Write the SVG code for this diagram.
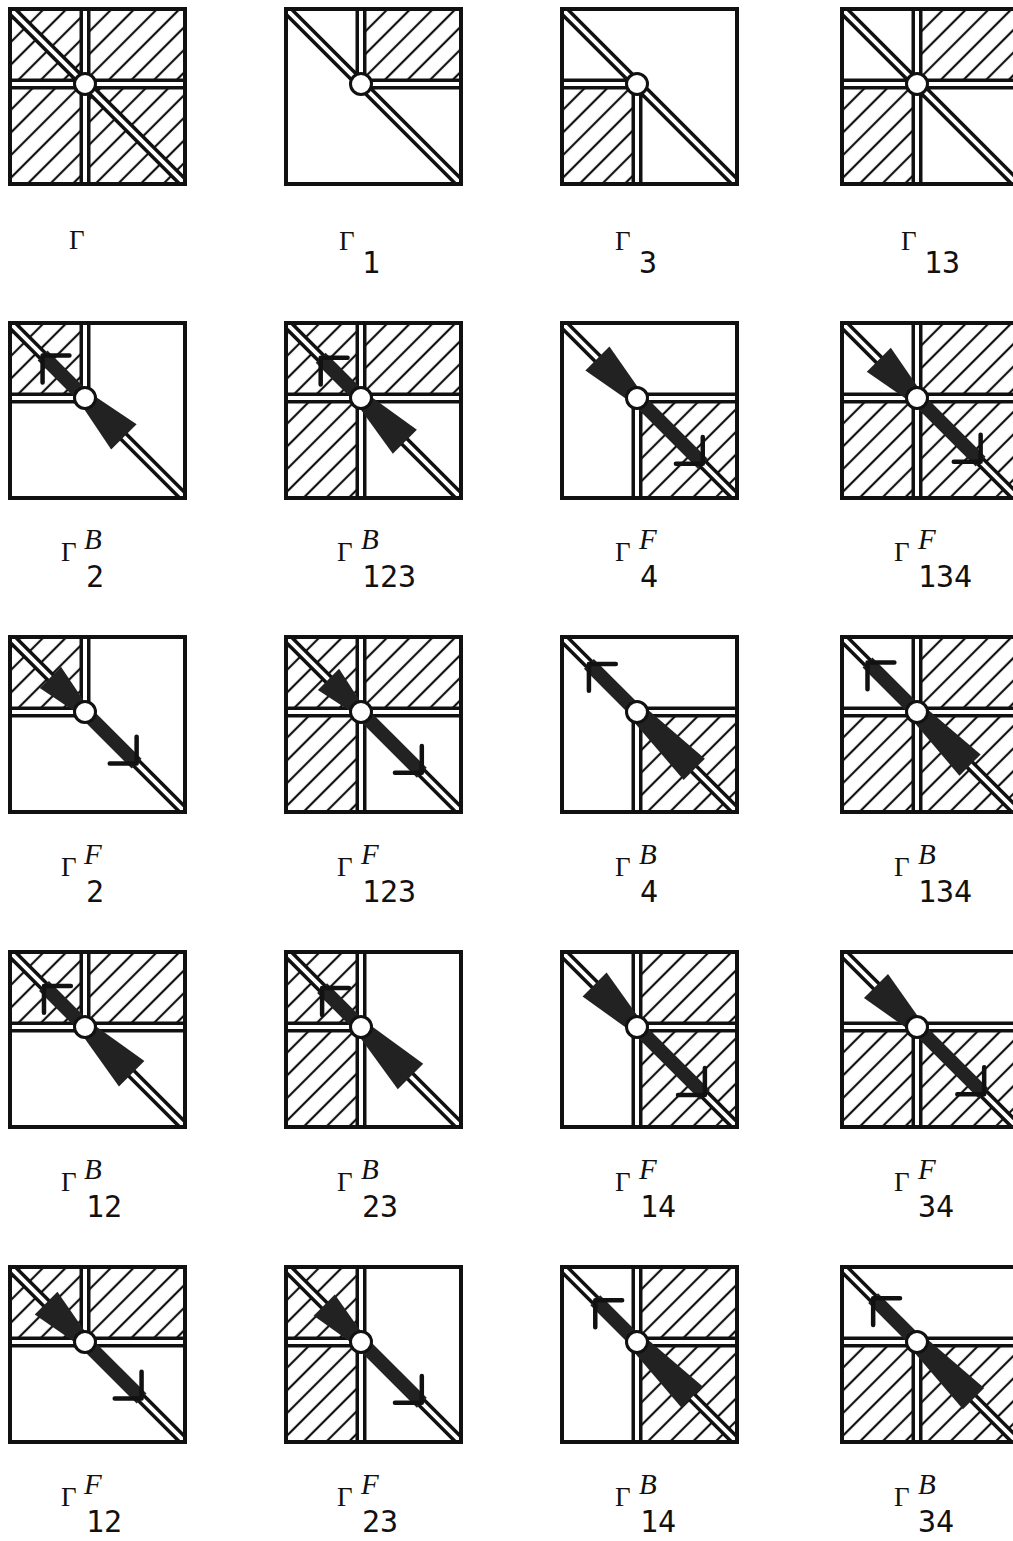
<svg xmlns="http://www.w3.org/2000/svg" width="1013" height="1541" viewBox="0 0 1013 1541">
<style>
.box{fill:none;stroke:#111;stroke-width:4}
.bk{fill:none;stroke:#111;stroke-width:11}
.wh{fill:none;stroke:#fff;stroke-width:4}
.hz{fill:url(#hatch)}
.dot{fill:#fff;stroke:#111;stroke-width:3}
.sh{fill:#222}
.chev{fill:none;stroke:#111;stroke-width:4.5;stroke-linecap:round;stroke-linejoin:round}
.g{font-family:"Liberation Serif",serif;font-size:27px;fill:#111}
.n{font-family:"DejaVu Sans Mono","Liberation Mono",monospace;font-size:30px;fill:#111}
.s{font-family:"Liberation Serif",serif;font-style:italic;font-size:29px;fill:#111}
</style>
<defs>
<pattern id="hatch" width="16" height="16" patternUnits="userSpaceOnUse" patternTransform="rotate(45)">
<line x1="8" y1="0" x2="8" y2="16" stroke="#111" stroke-width="2.2"/>
</pattern>
<clipPath id="clip"><rect x="0" y="0" width="175" height="175"/></clipPath>
</defs>
<rect width="1013" height="1541" fill="#fff"/>

<!-- Row 1 -->
<g id="n-G">
<g transform="translate(10 9)">
<g clip-path="url(#clip)">
<rect class="hz" x="0" y="0" width="175" height="175"/>
<path class="bk" d="M75 0V175M0 75H175M0 0L175 175"/>
<path class="wh" d="M75 0V175M0 75H175M0 0L175 175"/>
<circle class="dot" cx="75" cy="75" r="10.5"/>
</g>
<rect class="box" x="0" y="0" width="175" height="175"/>
</g>
<text class="g" x="69" y="249">Γ</text>
</g>

<g id="n-G1">
<g transform="translate(286 9)">
<g clip-path="url(#clip)">
<rect class="hz" x="75" y="0" width="100" height="75"/>
<path class="bk" d="M75 0V75M75 75H175M0 0L175 175"/>
<path class="wh" d="M75 0V75M75 75H175M0 0L175 175"/>
<circle class="dot" cx="75" cy="75" r="10.5"/>
</g>
<rect class="box" x="0" y="0" width="175" height="175"/>
</g>
<text class="g" x="339" y="250">Γ</text><text class="n" x="362" y="273">1</text>
</g>

<g id="n-G3">
<g transform="translate(562 9)">
<g clip-path="url(#clip)">
<rect class="hz" x="0" y="75" width="75" height="100"/>
<path class="bk" d="M0 75H75M75 75V175M0 0L175 175"/>
<path class="wh" d="M0 75H75M75 75V175M0 0L175 175"/>
<circle class="dot" cx="75" cy="75" r="10.5"/>
</g>
<rect class="box" x="0" y="0" width="175" height="175"/>
</g>
<text class="g" x="615" y="250">Γ</text><text class="n" x="639" y="273">3</text>
</g>

<g id="n-G13">
<g transform="translate(842 9)">
<g clip-path="url(#clip)">
<rect class="hz" x="75" y="0" width="100" height="75"/>
<rect class="hz" x="0" y="75" width="75" height="100"/>
<path class="bk" d="M75 0V175M0 75H175M0 0L175 175"/>
<path class="wh" d="M75 0V175M0 75H175M0 0L175 175"/>
<circle class="dot" cx="75" cy="75" r="10.5"/>
</g>
<rect class="box" x="0" y="0" width="175" height="175"/>
</g>
<text class="g" x="901" y="250">Γ</text><text class="n" x="924" y="273">13</text>
</g>

<!-- Row 2 -->
<g id="n-GB2">
<g transform="translate(10 323)">
<g clip-path="url(#clip)">
<rect class="hz" x="0" y="0" width="75" height="75"/>
<path class="bk" d="M75 0V75M0 75H75M0 0L175 175"/>
<path class="wh" d="M75 0V75M0 75H75M0 0L175 175"/>
<g transform="translate(75 75) rotate(45)">
<rect class="sh" x="-60" y="-7" width="60" height="14"/>
<polygon class="sh" points="0,-7 55,-18 55,18 0,7"/>
<polyline class="chev" points="-41,-19 -60,0 -41,19"/>
</g>
<circle class="dot" cx="75" cy="75" r="10.5"/>
</g>
<rect class="box" x="0" y="0" width="175" height="175"/>
</g>
<text class="g" x="61" y="561">Γ</text><text class="s" x="84" y="549">B</text><text class="n" x="86" y="587">2</text>
</g>

<g id="n-GB123">
<g transform="translate(286 323)">
<g clip-path="url(#clip)">
<rect class="hz" x="0" y="0" width="175" height="75"/>
<rect class="hz" x="0" y="75" width="75" height="100"/>
<path class="bk" d="M75 0V175M0 75H175M0 0L175 175"/>
<path class="wh" d="M75 0V175M0 75H175M0 0L175 175"/>
<g transform="translate(75 75) rotate(45)">
<rect class="sh" x="-57" y="-7" width="57" height="14"/>
<polygon class="sh" points="0,-7 62,-17 62,17 0,7"/>
<polyline class="chev" points="-38,-19 -57,0 -38,19"/>
</g>
<circle class="dot" cx="75" cy="75" r="10.5"/>
</g>
<rect class="box" x="0" y="0" width="175" height="175"/>
</g>
<text class="g" x="337" y="561">Γ</text><text class="s" x="361" y="549">B</text><text class="n" x="362" y="587">123</text>
</g>

<g id="n-GF4">
<g transform="translate(562 323)">
<g clip-path="url(#clip)">
<rect class="hz" x="75" y="75" width="100" height="100"/>
<path class="bk" d="M75 75V175M75 75H175M0 0L175 175"/>
<path class="wh" d="M75 75V175M75 75H175M0 0L175 175"/>
<g transform="translate(75 75) rotate(45)">
<polygon class="sh" points="-56,-17 0,-7 0,7 -56,17"/>
<rect class="sh" x="0" y="-7" width="93" height="14"/>
<polyline class="chev" points="74,-19 93,0 74,19"/>
</g>
<circle class="dot" cx="75" cy="75" r="10.5"/>
</g>
<rect class="box" x="0" y="0" width="175" height="175"/>
</g>
<text class="g" x="615" y="561">Γ</text><text class="s" x="639" y="549">F</text><text class="n" x="640" y="587">4</text>
</g>

<g id="n-GF134">
<g transform="translate(842 323)">
<g clip-path="url(#clip)">
<rect class="hz" x="75" y="0" width="100" height="75"/>
<rect class="hz" x="0" y="75" width="175" height="100"/>
<path class="bk" d="M75 0V175M0 75H175M0 0L175 175"/>
<path class="wh" d="M75 0V175M0 75H175M0 0L175 175"/>
<g transform="translate(75 75) rotate(45)">
<polygon class="sh" points="-54,-17 0,-7 0,7 -54,17"/>
<rect class="sh" x="0" y="-7" width="90" height="14"/>
<polyline class="chev" points="71,-19 90,0 71,19"/>
</g>
<circle class="dot" cx="75" cy="75" r="10.5"/>
</g>
<rect class="box" x="0" y="0" width="175" height="175"/>
</g>
<text class="g" x="894" y="561">Γ</text><text class="s" x="918" y="549">F</text><text class="n" x="918" y="587">134</text>
</g>

<!-- Row 3 -->
<g id="n-GF2">
<g transform="translate(10 637)">
<g clip-path="url(#clip)">
<rect class="hz" x="0" y="0" width="75" height="75"/>
<path class="bk" d="M75 0V75M0 75H75M0 0L175 175"/>
<path class="wh" d="M75 0V75M0 75H75M0 0L175 175"/>
<g transform="translate(75 75) rotate(45)">
<polygon class="sh" points="-49,-15 -8,-7 -8,7 -49,15"/>
<rect class="sh" x="-8" y="-7" width="81" height="14"/>
<polyline class="chev" points="54,-19 73,0 54,19"/>
</g>
<circle class="dot" cx="75" cy="75" r="10.5"/>
</g>
<rect class="box" x="0" y="0" width="175" height="175"/>
</g>
<text class="g" x="61" y="876">Γ</text><text class="s" x="84" y="864">F</text><text class="n" x="86" y="902">2</text>
</g>

<g id="n-GF123">
<g transform="translate(286 637)">
<g clip-path="url(#clip)">
<rect class="hz" x="0" y="0" width="175" height="75"/>
<rect class="hz" x="0" y="75" width="75" height="100"/>
<path class="bk" d="M75 0V175M0 75H175M0 0L175 175"/>
<path class="wh" d="M75 0V175M0 75H175M0 0L175 175"/>
<g transform="translate(75 75) rotate(45)">
<polygon class="sh" points="-46,-15 -8,-7 -8,7 -46,15"/>
<rect class="sh" x="-8" y="-7" width="94" height="14"/>
<polyline class="chev" points="67,-19 86,0 67,19"/>
</g>
<circle class="dot" cx="75" cy="75" r="10.5"/>
</g>
<rect class="box" x="0" y="0" width="175" height="175"/>
</g>
<text class="g" x="337" y="876">Γ</text><text class="s" x="361" y="864">F</text><text class="n" x="362" y="902">123</text>
</g>

<g id="n-GB4">
<g transform="translate(562 637)">
<g clip-path="url(#clip)">
<rect class="hz" x="75" y="75" width="100" height="100"/>
<path class="bk" d="M75 75V175M75 75H175M0 0L175 175"/>
<path class="wh" d="M75 75V175M75 75H175M0 0L175 175"/>
<g transform="translate(75 75) rotate(45)">
<rect class="sh" x="-68" y="-7" width="68" height="14"/>
<polygon class="sh" points="0,-9 81,-15 81,15 0,9"/>
<polyline class="chev" points="-49,-19 -68,0 -49,19"/>
</g>
<circle class="dot" cx="75" cy="75" r="10.5"/>
</g>
<rect class="box" x="0" y="0" width="175" height="175"/>
</g>
<text class="g" x="615" y="876">Γ</text><text class="s" x="639" y="864">B</text><text class="n" x="640" y="902">4</text>
</g>

<g id="n-GB134">
<g transform="translate(842 637)">
<g clip-path="url(#clip)">
<rect class="hz" x="75" y="0" width="100" height="75"/>
<rect class="hz" x="0" y="75" width="175" height="100"/>
<path class="bk" d="M75 0V175M0 75H175M0 0L175 175"/>
<path class="wh" d="M75 0V175M0 75H175M0 0L175 175"/>
<g transform="translate(75 75) rotate(45)">
<rect class="sh" x="-70" y="-7" width="70" height="14"/>
<polygon class="sh" points="0,-9 75,-15 75,15 0,9"/>
<polyline class="chev" points="-51,-19 -70,0 -51,19"/>
</g>
<circle class="dot" cx="75" cy="75" r="10.5"/>
</g>
<rect class="box" x="0" y="0" width="175" height="175"/>
</g>
<text class="g" x="894" y="876">Γ</text><text class="s" x="918" y="864">B</text><text class="n" x="918" y="902">134</text>
</g>

<!-- Row 4 -->
<g id="n-GB12">
<g transform="translate(10 952)">
<g clip-path="url(#clip)">
<rect class="hz" x="0" y="0" width="175" height="75"/>
<path class="bk" d="M75 0V75M0 75H175M0 0L175 175"/>
<path class="wh" d="M75 0V75M0 75H175M0 0L175 175"/>
<g transform="translate(75 75) rotate(45)">
<rect class="sh" x="-58" y="-7" width="58" height="14"/>
<polygon class="sh" points="0,-7 66,-18 66,18 0,7"/>
<polyline class="chev" points="-39,-19 -58,0 -39,19"/>
</g>
<circle class="dot" cx="75" cy="75" r="10.5"/>
</g>
<rect class="box" x="0" y="0" width="175" height="175"/>
</g>
<text class="g" x="61" y="1191">Γ</text><text class="s" x="84" y="1179">B</text><text class="n" x="86" y="1217">12</text>
</g>

<g id="n-GB23">
<g transform="translate(286 952)">
<g clip-path="url(#clip)">
<rect class="hz" x="0" y="0" width="75" height="175"/>
<path class="bk" d="M75 0V175M0 75H75M0 0L175 175"/>
<path class="wh" d="M75 0V175M0 75H75M0 0L175 175"/>
<g transform="translate(75 75) rotate(45)">
<rect class="sh" x="-55" y="-7" width="55" height="14"/>
<polygon class="sh" points="0,-7 70,-18 70,18 0,7"/>
<polyline class="chev" points="-36,-19 -55,0 -36,19"/>
</g>
<circle class="dot" cx="75" cy="75" r="10.5"/>
</g>
<rect class="box" x="0" y="0" width="175" height="175"/>
</g>
<text class="g" x="337" y="1191">Γ</text><text class="s" x="361" y="1179">B</text><text class="n" x="362" y="1217">23</text>
</g>

<g id="n-GF14">
<g transform="translate(562 952)">
<g clip-path="url(#clip)">
<rect class="hz" x="75" y="0" width="100" height="175"/>
<path class="bk" d="M75 0V175M75 75H175M0 0L175 175"/>
<path class="wh" d="M75 0V175M75 75H175M0 0L175 175"/>
<g transform="translate(75 75) rotate(45)">
<polygon class="sh" points="-60,-17 0,-7 0,7 -60,17"/>
<rect class="sh" x="0" y="-7" width="96" height="14"/>
<polyline class="chev" points="77,-19 96,0 77,19"/>
</g>
<circle class="dot" cx="75" cy="75" r="10.5"/>
</g>
<rect class="box" x="0" y="0" width="175" height="175"/>
</g>
<text class="g" x="615" y="1191">Γ</text><text class="s" x="639" y="1179">F</text><text class="n" x="640" y="1217">14</text>
</g>

<g id="n-GF34">
<g transform="translate(842 952)">
<g clip-path="url(#clip)">
<rect class="hz" x="0" y="75" width="175" height="100"/>
<path class="bk" d="M75 75V175M0 75H175M0 0L175 175"/>
<path class="wh" d="M75 75V175M0 75H175M0 0L175 175"/>
<g transform="translate(75 75) rotate(45)">
<polygon class="sh" points="-58,-17 0,-7 0,7 -58,17"/>
<rect class="sh" x="0" y="-7" width="95" height="14"/>
<polyline class="chev" points="76,-19 95,0 76,19"/>
</g>
<circle class="dot" cx="75" cy="75" r="10.5"/>
</g>
<rect class="box" x="0" y="0" width="175" height="175"/>
</g>
<text class="g" x="894" y="1191">Γ</text><text class="s" x="918" y="1179">F</text><text class="n" x="918" y="1217">34</text>
</g>

<!-- Row 5 -->
<g id="n-GF12">
<g transform="translate(10 1267)">
<g clip-path="url(#clip)">
<rect class="hz" x="0" y="0" width="175" height="75"/>
<path class="bk" d="M75 0V75M0 75H175M0 0L175 175"/>
<path class="wh" d="M75 0V75M0 75H175M0 0L175 175"/>
<g transform="translate(75 75) rotate(45)">
<polygon class="sh" points="-55,-16 -5,-7 -5,7 -55,16"/>
<rect class="sh" x="-5" y="-7" width="85" height="14"/>
<polyline class="chev" points="61,-19 80,0 61,19"/>
</g>
<circle class="dot" cx="75" cy="75" r="10.5"/>
</g>
<rect class="box" x="0" y="0" width="175" height="175"/>
</g>
<text class="g" x="61" y="1506">Γ</text><text class="s" x="84" y="1494">F</text><text class="n" x="86" y="1532">12</text>
</g>

<g id="n-GF23">
<g transform="translate(286 1267)">
<g clip-path="url(#clip)">
<rect class="hz" x="0" y="0" width="75" height="175"/>
<path class="bk" d="M75 0V175M0 75H75M0 0L175 175"/>
<path class="wh" d="M75 0V175M0 75H75M0 0L175 175"/>
<g transform="translate(75 75) rotate(45)">
<polygon class="sh" points="-52,-15 -5,-7 -5,7 -52,15"/>
<rect class="sh" x="-5" y="-7" width="91" height="14"/>
<polyline class="chev" points="67,-19 86,0 67,19"/>
</g>
<circle class="dot" cx="75" cy="75" r="10.5"/>
</g>
<rect class="box" x="0" y="0" width="175" height="175"/>
</g>
<text class="g" x="337" y="1506">Γ</text><text class="s" x="361" y="1494">F</text><text class="n" x="362" y="1532">23</text>
</g>

<g id="n-GB14">
<g transform="translate(562 1267)">
<g clip-path="url(#clip)">
<rect class="hz" x="75" y="0" width="100" height="175"/>
<path class="bk" d="M75 0V175M75 75H175M0 0L175 175"/>
<path class="wh" d="M75 0V175M75 75H175M0 0L175 175"/>
<g transform="translate(75 75) rotate(45)">
<rect class="sh" x="-59" y="-7" width="59" height="14"/>
<polygon class="sh" points="0,-9 78,-15 78,15 0,9"/>
<polyline class="chev" points="-40,-19 -59,0 -40,19"/>
</g>
<circle class="dot" cx="75" cy="75" r="10.5"/>
</g>
<rect class="box" x="0" y="0" width="175" height="175"/>
</g>
<text class="g" x="615" y="1506">Γ</text><text class="s" x="639" y="1494">B</text><text class="n" x="640" y="1532">14</text>
</g>

<g id="n-GB34">
<g transform="translate(842 1267)">
<g clip-path="url(#clip)">
<rect class="hz" x="0" y="75" width="175" height="100"/>
<path class="bk" d="M75 75V175M0 75H175M0 0L175 175"/>
<path class="wh" d="M75 75V175M0 75H175M0 0L175 175"/>
<g transform="translate(75 75) rotate(45)">
<rect class="sh" x="-62" y="-7" width="62" height="14"/>
<polygon class="sh" points="0,-9 80,-15 80,15 0,9"/>
<polyline class="chev" points="-43,-19 -62,0 -43,19"/>
</g>
<circle class="dot" cx="75" cy="75" r="10.5"/>
</g>
<rect class="box" x="0" y="0" width="175" height="175"/>
</g>
<text class="g" x="894" y="1506">Γ</text><text class="s" x="918" y="1494">B</text><text class="n" x="918" y="1532">34</text>
</g>

<g id="connectors"></g>
</svg>
